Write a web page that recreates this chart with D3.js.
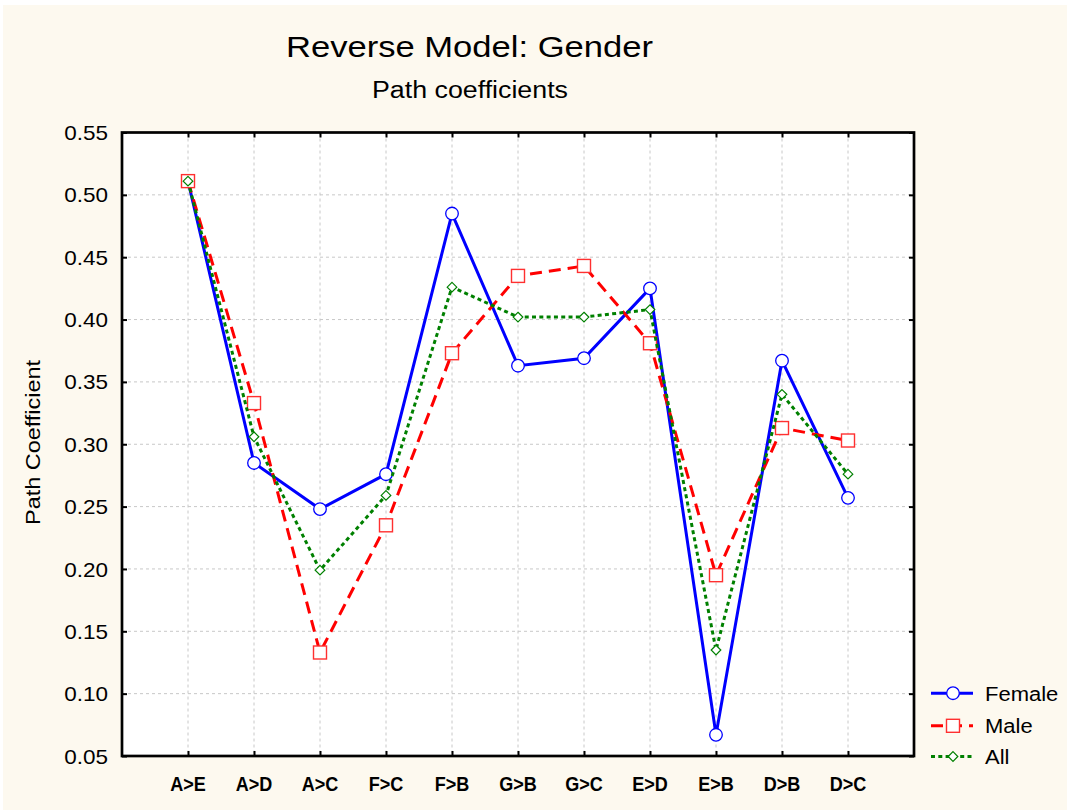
<!DOCTYPE html>
<html>
<head>
<meta charset="utf-8">
<script src="https://cdn.jsdelivr.net/npm/d3@7"></script>
<style>
  html, body { margin: 0; padding: 0; background: #ffffff; }
  svg { display: block; }
  text { font-family: "Liberation Sans", Arial, sans-serif; fill: #000; }
</style>
</head>
<body>
<svg id="chart" width="1067" height="810"></svg>
<script>
// ---- data ----
const categories = ["A>E", "A>D", "A>C", "F>C", "F>B", "G>B", "G>C", "E>D", "E>B", "D>B", "D>C"];
const female = [0.511, 0.285, 0.248, 0.276, 0.485, 0.363, 0.369, 0.425, 0.067, 0.367, 0.257];
const male   = [0.511, 0.333, 0.133, 0.235, 0.373, 0.435, 0.443, 0.381, 0.195, 0.313, 0.303];
const all    = [0.511, 0.306, 0.199, 0.259, 0.426, 0.402, 0.402, 0.408, 0.135, 0.340, 0.276];
const yTicks = [0.05, 0.10, 0.15, 0.20, 0.25, 0.30, 0.35, 0.40, 0.45, 0.50, 0.55];
const seriesNames = ["Female", "Male", "All"];
const titleText = "Reverse Model: Gender";
const subtitleText = "Path coefficients";
const yAxisTitle = "Path Coefficient";

const series = [
  { name: seriesNames[0], values: female, color: "#0000ff", dash: null, marker: "circle", mstroke: "#0000ff" },
  { name: seriesNames[1], values: male, color: "#ff0000", dash: "12,7", marker: "square", mstroke: "#ff3030" },
  { name: seriesNames[2], values: all, color: "#008000", dash: "4,3.3", marker: "diamond", mstroke: "#008000" }
];

const svg = d3.select("#chart");
// background
svg.append("rect").attr("x", 3).attr("y", 5).attr("width", 1064).attr("height", 805).attr("fill", "#fdf9ef");

const L = 122, R = 914, T = 132.5, B = 756;
const x = d3.scaleLinear().domain([0, categories.length + 1]).range([L, R]);
const y = d3.scaleLinear().domain([0.05, 0.55]).range([B, T]);

// plot area
svg.append("rect").attr("x", L).attr("y", T).attr("width", R - L).attr("height", B - T).attr("fill", "#ffffff");

// grid
const grid = svg.append("g").attr("stroke", "#c8c8c8").attr("stroke-width", 1).attr("stroke-dasharray", "3,3");
categories.forEach((c, i) => {
  grid.append("line").attr("x1", x(i + 1)).attr("x2", x(i + 1)).attr("y1", T).attr("y2", B);
});
yTicks.slice(1, -1).forEach(t => {
  grid.append("line").attr("x1", L).attr("x2", R).attr("y1", y(t)).attr("y2", y(t));
});

// axes with inward ticks
const tickLen = 5;
const ax = svg.append("g");
const xTickVals = d3.range(1, categories.length + 1);
ax.append("g").attr("transform", `translate(0,${B})`)
  .call(d3.axisBottom(x).tickValues(xTickVals).tickSize(-tickLen).tickFormat(""));
ax.append("g").attr("transform", `translate(0,${T})`)
  .call(d3.axisTop(x).tickValues(xTickVals).tickSize(-tickLen).tickFormat(""));
ax.append("g").attr("transform", `translate(${L},0)`)
  .call(d3.axisLeft(y).tickValues(yTicks).tickSize(-tickLen).tickFormat(""));
ax.append("g").attr("transform", `translate(${R},0)`)
  .call(d3.axisRight(y).tickValues(yTicks).tickSize(-tickLen).tickFormat(""));
ax.selectAll(".domain").remove();
ax.selectAll(".tick line").attr("stroke", "#000").attr("stroke-width", 2);

// frame
svg.append("rect").attr("x", L).attr("y", T).attr("width", R - L).attr("height", B - T)
  .attr("fill", "none").attr("stroke", "#000").attr("stroke-width", 2.7);

function stretch(sel, factor) {
  sel.each(function () {
    const w = this.getComputedTextLength();
    d3.select(this).attr("textLength", w * factor).attr("lengthAdjust", "spacingAndGlyphs");
  });
}

// y tick labels
const yl = svg.append("g").selectAll("text").data(yTicks).join("text")
  .attr("x", 108).attr("y", d => y(d)).attr("dy", "0.36em")
  .attr("text-anchor", "end").attr("font-size", 21)
  .text(d => d.toFixed(2));
stretch(yl, 1.07);

// x labels (condensed bold)
svg.append("g").selectAll("text").data(categories).join("text")
  .attr("transform", (d, i) => `translate(${x(i + 1)},791) scale(0.86,1)`)
  .attr("text-anchor", "middle").attr("font-size", 21).attr("font-weight", "bold")
  .text(d => d);

// titles
svg.append("text").attr("x", 469.5).attr("y", 56.7).attr("text-anchor", "middle")
  .attr("font-size", 30).attr("textLength", 367).attr("lengthAdjust", "spacingAndGlyphs").text(titleText);
svg.append("text").attr("x", 470).attr("y", 98).attr("text-anchor", "middle")
  .attr("font-size", 23).attr("textLength", 196).attr("lengthAdjust", "spacingAndGlyphs").text(subtitleText);
svg.append("text").attr("transform", "translate(40,442.5) rotate(-90)").attr("text-anchor", "middle")
  .attr("font-size", 20).attr("textLength", 165).attr("lengthAdjust", "spacingAndGlyphs").text(yAxisTitle);

// markers
function drawMarker(g, type, cx, cy, stroke) {
  if (type === "circle") {
    g.append("circle").attr("cx", cx).attr("cy", cy).attr("r", 6.3)
      .attr("fill", "#fff").attr("stroke", stroke).attr("stroke-width", 1.3);
  } else if (type === "square") {
    g.append("rect").attr("x", cx - 6.5).attr("y", cy - 6.5).attr("width", 13).attr("height", 13)
      .attr("fill", "#fff").attr("stroke", stroke).attr("stroke-width", 1.4);
  } else {
    const h = 4.8;
    g.append("path").attr("d", `M${cx},${cy - h}L${cx + h},${cy}L${cx},${cy + h}L${cx - h},${cy}Z`)
      .attr("fill", "#fff").attr("stroke", stroke).attr("stroke-width", 1.2);
  }
}

const line = d3.line().x((d, i) => x(i + 1)).y(d => y(d));
series.forEach(s => {
  const g = svg.append("g");
  g.append("path").attr("d", line(s.values)).attr("fill", "none")
    .attr("stroke", s.color).attr("stroke-width", 3)
    .attr("stroke-dasharray", s.dash);
  s.values.forEach((v, i) => drawMarker(g, s.marker, x(i + 1), y(v), s.mstroke));
});

// legend
const legBase = [700.7, 733.3, 764];
series.forEach((s, i) => {
  const g = svg.append("g");
  const ly = legBase[i] - 7.5;
  g.append("line").attr("x1", 931).attr("x2", 973).attr("y1", ly).attr("y2", ly)
    .attr("stroke", s.color).attr("stroke-width", 3).attr("stroke-dasharray", s.dash);
  drawMarker(g, s.marker, 953, ly, s.mstroke);
  const t = g.append("text").attr("x", 985).attr("y", legBase[i]).attr("font-size", 20).text(s.name);
  stretch(t, 1.1);
});
</script>
</body>
</html>
